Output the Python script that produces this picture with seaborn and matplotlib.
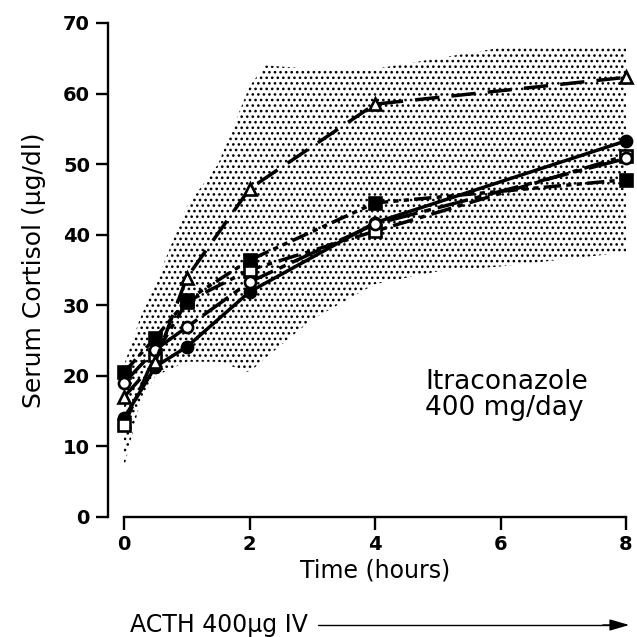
import pandas as pd
import matplotlib.pyplot as plt
import seaborn as sns

# sampling times (hours)
TIMES = [0, 0.5, 1, 2, 4, 8]

# individual patient curves (serum cortisol, ug/dl)
filled_circle = [14.0, 21.3, 24.1, 31.9, 41.7, 53.3]
open_square = [13.0, 23.0, 30.5, 35.0, 40.5, 51.2]
filled_square = [20.5, 25.4, 30.7, 36.4, 44.5, 47.8]
open_circle = [19.0, 23.7, 26.9, 33.3, 41.5, 50.8]
open_triangle = [17.0, 22.0, 33.9, 46.5, 58.5, 62.3]

# normal range (stippled band)
band_t = [0, 0.25, 0.5, 1, 1.5, 2, 2.25, 3, 4, 5, 6, 7, 8]
band_low = [7.0, 16.0, 20.0, 22.0, 22.0, 20.5, 22.5, 28.0, 33.0, 34.8, 35.5, 36.5, 37.5]
band_high = [21.5, 28.0, 33.0, 44.0, 50.0, 61.0, 64.0, 63.5, 63.5, 65.0, 66.5, 66.5, 66.5]

SERIES = [
    ("filled circle", filled_circle, "o", "black", "-"),
    ("open square", open_square, "s", "white", (0, (6, 2, 1.5, 2))),
    ("filled square", filled_square, "s", "black", (0, (5, 1.5, 1.5, 1.5, 1.5, 1.5))),
    ("open circle", open_circle, "o", "white", (0, (9, 2, 2, 2))),
    ("open triangle", open_triangle, "^", "white", (0, (7, 3.5))),
]

sns.set_style("ticks")
plt.rcParams["font.family"] = ["DejaVu Sans"]
plt.rcParams["text.color"] = "black"
plt.rcParams["axes.labelcolor"] = "black"
plt.rcParams["xtick.color"] = "black"
plt.rcParams["ytick.color"] = "black"
plt.rcParams["axes.edgecolor"] = "black"
plt.rcParams["hatch.linewidth"] = 1.1

fig = plt.figure(figsize=(6.37, 6.37), dpi=100)
ax = fig.add_axes([124 / 637, 120 / 637, 502 / 637, 494 / 637])

ax.fill_between(band_t, band_low, band_high, facecolor="white", edgecolor="black",
                hatch="...", linewidth=0, zorder=1)

for name, vals, mk, face, ls in SERIES:
    df = pd.DataFrame({"time": TIMES, "cortisol": vals})
    sns.lineplot(data=df, x="time", y="cortisol", ax=ax, color="black",
                 linestyle=ls, linewidth=2.5, marker=mk, markersize=8,
                 markerfacecolor=face, markeredgecolor="black", markeredgewidth=1.9,
                 clip_on=False, zorder=3)

ax.set_xlim(0, 8)
ax.set_ylim(0, 70)

sns.despine(ax=ax)
ax.spines["left"].set_position(("outward", 11.5))
ax.spines["left"].set_bounds(0, 70)
ax.spines["bottom"].set_bounds(0, 8)
for sp in ("left", "bottom"):
    ax.spines[sp].set_linewidth(1.7)

ax.set_xticks([0, 2, 4, 6, 8])
ax.set_yticks(range(0, 71, 10))
ax.tick_params(axis="both", direction="out", length=9, width=1.7, labelsize=14, pad=4)
for lab in ax.get_xticklabels() + ax.get_yticklabels():
    lab.set_fontweight("bold")

ax.set_xlabel("Time (hours)", fontsize=17, labelpad=3)
ax.set_ylabel("Serum Cortisol (\u03bcg/dl)", fontsize=18, labelpad=12)

ax.text(4.8, 17.3, "Itraconazole\n400 mg/day", fontsize=19, ha="left", va="center",
        linespacing=1.0)

fig.text(130 / 637, 1 - 625 / 637, "ACTH 400\u03bcg IV", fontsize=17, ha="left", va="center")
fig.add_artist(plt.Line2D([318 / 637, 615 / 637], [1 - 625 / 637, 1 - 625 / 637],
                          color="black", linewidth=1.0))
ax.annotate("", xy=(632 / 637, 1 - 625 / 637), xytext=(600 / 637, 1 - 625 / 637),
            xycoords="figure fraction", textcoords="figure fraction",
            arrowprops=dict(arrowstyle="-|>,head_length=1.2,head_width=0.35",
                            color="black", lw=1.0))

fig.savefig("out.png", dpi=100)
